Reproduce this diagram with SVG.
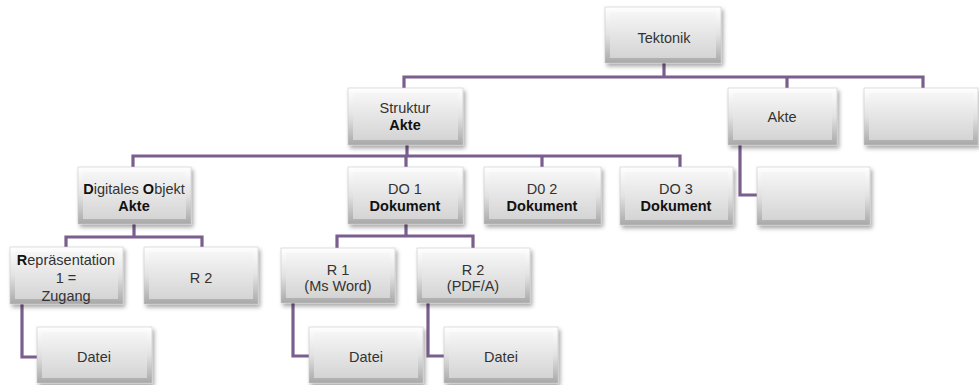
<svg xmlns="http://www.w3.org/2000/svg" width="979" height="385" viewBox="0 0 979 385">
<defs>
<linearGradient id="edge" x1="0" y1="0" x2="0" y2="1">
<stop offset="0" stop-color="#ffffff"/>
<stop offset="0.5" stop-color="#e2e2e2"/>
<stop offset="1" stop-color="#a8a8a8"/>
</linearGradient>
<linearGradient id="face" x1="0" y1="0" x2="0" y2="1">
<stop offset="0" stop-color="#f6f6f6"/>
<stop offset="1" stop-color="#d4d4d4"/>
</linearGradient>
<filter id="sh" x="-10%" y="-10%" width="125%" height="135%">
<feGaussianBlur in="SourceAlpha" stdDeviation="2"/>
<feOffset dx="2" dy="3" result="b"/>
<feComponentTransfer><feFuncA type="linear" slope="0.35"/></feComponentTransfer>
<feMerge><feMergeNode/><feMergeNode in="SourceGraphic"/></feMerge>
</filter>
</defs>
<style>
.o{fill:url(#edge);stroke:#c8c8c8;stroke-width:0.6;filter:url(#sh)}
.i{fill:url(#face)}
.c{fill:none;stroke:#7a5f8e;stroke-width:3.2}
text{font-family:"Liberation Sans",Arial,sans-serif;font-size:14.5px;fill:#333333;text-anchor:middle}
.b{font-weight:bold;fill:#111}
</style>
<rect width="979" height="385" fill="#ffffff"/>
<g id="connectors">
<path class="c" d="M664,63 V77 M404,88 V77 H923 V88 M787,77 V88"/>
<path class="c" d="M407,145 V156 M133,167 V156 H680 V167 M406,156 V167 M542,156 V167"/>
<path class="c" d="M740,145 V195 H757"/>
<path class="c" d="M134,224 V237 M66,247 V237 H202 V247"/>
<path class="c" d="M22,304 V357 H37"/>
<path class="c" d="M406,224 V236 M337,248 V236 H473 V248"/>
<path class="c" d="M293,303 V356 H309"/>
<path class="c" d="M428,303 V356 H444"/>
</g>
<g id="tektonik"><rect class="o" x="605" y="7" width="116" height="56"/><rect class="i" x="610" y="12" width="106" height="46"/><text x="664" y="43">Tektonik</text></g>
<g id="struktur"><rect class="o" x="348" y="88" width="115" height="57"/><rect class="i" x="353" y="93" width="105" height="47"/><text x="405" y="113">Struktur</text><text class="b" x="405" y="130">Akte</text></g>
<g id="akte"><rect class="o" x="728" y="88" width="109" height="57"/><rect class="i" x="733" y="93" width="99" height="47"/><text x="782" y="122">Akte</text></g>
<g id="leer1"><rect class="o" x="864" y="88" width="114" height="57"/><rect class="i" x="869" y="93" width="104" height="47"/></g>
<g id="digobjekt"><rect class="o" x="78" y="167" width="113" height="57"/><rect class="i" x="83" y="172" width="103" height="47"/><text x="134" y="194"><tspan class="b">D</tspan>igitales <tspan class="b">O</tspan>bjekt</text><text class="b" x="134" y="211">Akte</text></g>
<g id="do1"><rect class="o" x="348" y="167" width="115" height="57"/><rect class="i" x="353" y="172" width="105" height="47"/><text x="405" y="194">DO 1</text><text class="b" x="405" y="211">Dokument</text></g>
<g id="do2"><rect class="o" x="484" y="167" width="117" height="57"/><rect class="i" x="489" y="172" width="107" height="47"/><text x="542" y="194">D0 2</text><text class="b" x="542" y="211">Dokument</text></g>
<g id="do3"><rect class="o" x="620" y="167" width="113" height="58"/><rect class="i" x="625" y="172" width="103" height="48"/><text x="676" y="194">DO 3</text><text class="b" x="676" y="211">Dokument</text></g>
<g id="leer2"><rect class="o" x="757" y="167" width="113" height="58"/><rect class="i" x="762" y="172" width="103" height="48"/></g>
<g id="rep1"><rect class="o" x="10" y="247" width="113" height="57"/><rect class="i" x="15" y="252" width="103" height="47"/><text x="66" y="265"><tspan class="b">R</tspan>epräsentation</text><text x="66" y="283">1 =</text><text x="66" y="301">Zugang</text></g>
<g id="r2a"><rect class="o" x="144" y="247" width="114" height="57"/><rect class="i" x="149" y="252" width="104" height="47"/><text x="201" y="283">R 2</text></g>
<g id="r1"><rect class="o" x="281" y="248" width="114" height="55"/><rect class="i" x="286" y="253" width="104" height="45"/><text x="338" y="275">R 1</text><text x="338" y="291">(Ms Word)</text></g>
<g id="r2b"><rect class="o" x="417" y="248" width="113" height="55"/><rect class="i" x="422" y="253" width="103" height="45"/><text x="473" y="275">R 2</text><text x="473" y="291">(PDF/A)</text></g>
<g id="datei1"><rect class="o" x="37" y="327" width="115" height="56"/><rect class="i" x="42" y="332" width="105" height="46"/><text x="94" y="362">Datei</text></g>
<g id="datei2"><rect class="o" x="309" y="327" width="114" height="56"/><rect class="i" x="314" y="332" width="104" height="46"/><text x="366" y="362">Datei</text></g>
<g id="datei3"><rect class="o" x="444" y="327" width="114" height="56"/><rect class="i" x="449" y="332" width="104" height="46"/><text x="501" y="362">Datei</text></g>
</svg>
